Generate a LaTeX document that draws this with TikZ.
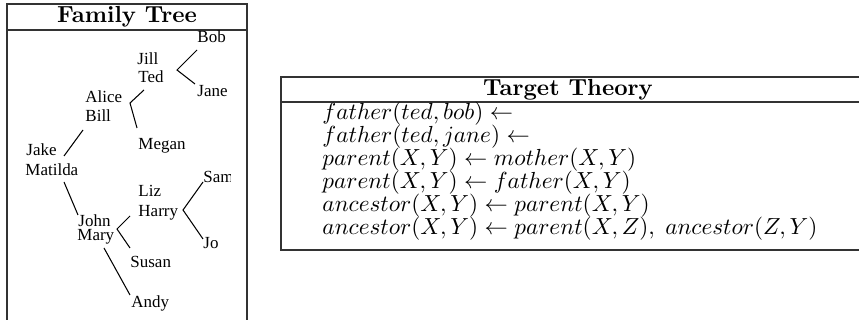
\documentclass[tikz,border=0pt]{standalone}
\usepackage{fontspec}
\newfontfamily\namefont{Liberation Serif}
\begin{document}
\begin{tikzpicture}[x=0.43pt,y=-0.43pt,
  box/.style={draw=black!80,line width=0.6pt},
  nm/.style={anchor=base west,inner sep=0pt,font=\namefont\fontsize{7.3pt}{8pt}\selectfont},
  rulerow/.style={anchor=base west,inner sep=0pt},
  ttl/.style={anchor=base,inner sep=0pt,font=\bfseries},
  edge/.style={line width=0.45pt}]
\useasboundingbox (0,0) rectangle (859,320);
\clip (0,0) rectangle (859,320);
% Family tree frame
\draw[box] (7,330) -- (7,4) -- (247,4) -- (247,330);
\draw[box] (7,30) -- (247,30);
\node[ttl] (ft) at (127,23) {Family Tree};
% names
\node[nm] (bob) at (197,43) {Bob};
\node[nm] (jill) at (137,65) {Jill};
\node[nm] (ted) at (138,83) {Ted};
\node[nm] (jane) at (197,97) {Jane};
\node[nm] (alice) at (85,103) {Alice};
\node[nm] (bill) at (85,122) {Bill};
\node[nm] (megan) at (138,150) {Megan};
\node[nm] (jake) at (26,156) {Jake};
\node[nm] (matilda) at (25,176) {Matilda};
\begin{scope}
  \clip (195,160) rectangle (230,195);
  \node[nm] (sam) at (203,183) {Sam};
\end{scope}
\node[nm] (liz) at (138,197) {Liz};
\node[nm] (harry) at (138,217) {Harry};
\node[nm] (john) at (78,227) {John};
\node[nm] (mary) at (77,241) {Mary};
\node[nm] (jo) at (203,249) {Jo};
\node[nm] (susan) at (130,268) {Susan};
\node[nm] (andy) at (131,308) {Andy};
% connector points
\coordinate (tedv) at (177,70);
\coordinate (tedu) at (197,50);
\coordinate (tedd) at (195,84);
\coordinate (billv) at (130,103);
\coordinate (billu) at (144,90);
\coordinate (billd) at (137,128);
\coordinate (rootu1) at (64,156);
\coordinate (rootu2) at (83,130);
\coordinate (rootd1) at (64,182);
\coordinate (rootd2) at (78,215);
\coordinate (harryv) at (183,210);
\coordinate (harryu) at (203,182);
\coordinate (harryd) at (203,239);
\coordinate (maryv) at (117,229);
\coordinate (maryu) at (130,216);
\coordinate (maryd) at (130,248);
\coordinate (andy1) at (104,248);
\coordinate (andy2) at (130,295);
\draw[edge] (tedu) -- (tedv) -- (tedd);
\draw[edge] (billu) -- (billv) -- (billd);
\draw[edge] (rootu1) -- (rootu2);
\draw[edge] (rootd1) -- (rootd2);
\draw[edge] (harryu) -- (harryv) -- (harryd);
\draw[edge] (maryu) -- (maryv) -- (maryd);
\draw[edge] (andy1) -- (andy2);
% Target theory
\draw[box] (870,77) -- (281,77) -- (281,250) -- (870,250);
\draw[box] (281,102) -- (870,102);
\node[ttl] (tt) at (568,96) {Target Theory};
\node[rulerow] (r1) at (322,120) {$father(ted,bob) \leftarrow$};
\node[rulerow] (r2) at (322,143) {$father(ted,jane) \leftarrow$};
\node[rulerow] (r3) at (322,166) {$parent(X,Y) \leftarrow mother(X,Y)$};
\node[rulerow] (r4) at (322,189) {$parent(X,Y) \leftarrow father(X,Y)$};
\node[rulerow] (r5) at (322,212) {$ancestor(X,Y) \leftarrow parent(X,Y)$};
\node[rulerow] (r6) at (322,235) {$ancestor(X,Y) \leftarrow parent(X,Z),\; ancestor(Z,Y)$};
\end{tikzpicture}
\end{document}
